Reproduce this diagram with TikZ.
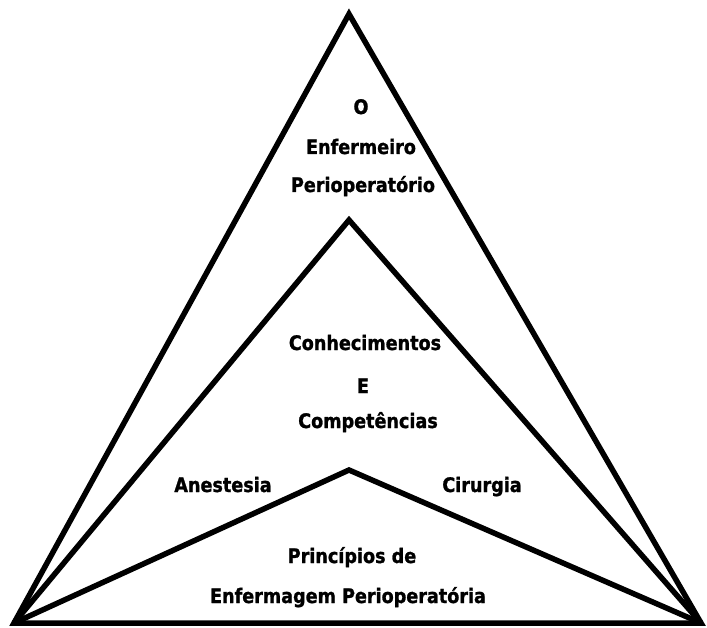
\documentclass[tikz,border=0pt]{standalone}
\usepackage{fontspec}
\setmainfont{DejaVu Sans}
% a slightly narrowed, heavier bold sans for the labels
\newfontfamily\labfont[FakeStretch=0.88,BoldFeatures={FakeBold=1.2}]{DejaVu Sans}
\begin{document}
\begin{tikzpicture}[x=1bp,y=-1bp,
  edge/.style={line width=5.5bp,line join=miter,line cap=butt},
  label/.style={anchor=base,inner sep=0pt,font=\labfont\bfseries\fontsize{20bp}{22bp}\selectfont}]
\useasboundingbox (0,0) rectangle (707,628);
% corners and apexes
\coordinate (bl) at (14,623);
\coordinate (br) at (701,623);
\coordinate (top) at (349,14);
\coordinate (mid) at (349,220);
\coordinate (low) at (349,470);
% outer triangle and the two inner roofs
\draw[edge] (bl) -- (top) -- (br) -- cycle;
\draw[edge] (bl) -- (mid) -- (br);
\draw[edge] (bl) -- (low) -- (br);
% labels
\node[label] (o) at (361,114) {O};
\node[label] (enf) at (361,154) {Enfermeiro};
\node[label] (peri) at (363,192) {Perioperatório};
\node[label] (con) at (365,350) {Conhecimentos};
\node[label] (e) at (363,393) {E};
\node[label] (comp) at (368,428) {Competências};
\node[label] (anes) at (223,492) {Anestesia};
\node[label] (cir) at (482,492) {Cirurgia};
\node[label] (princ) at (352,563) {Princípios de};
\node[label] (enfp) at (348,603) {Enfermagem Perioperatória};
\end{tikzpicture}
\end{document}
